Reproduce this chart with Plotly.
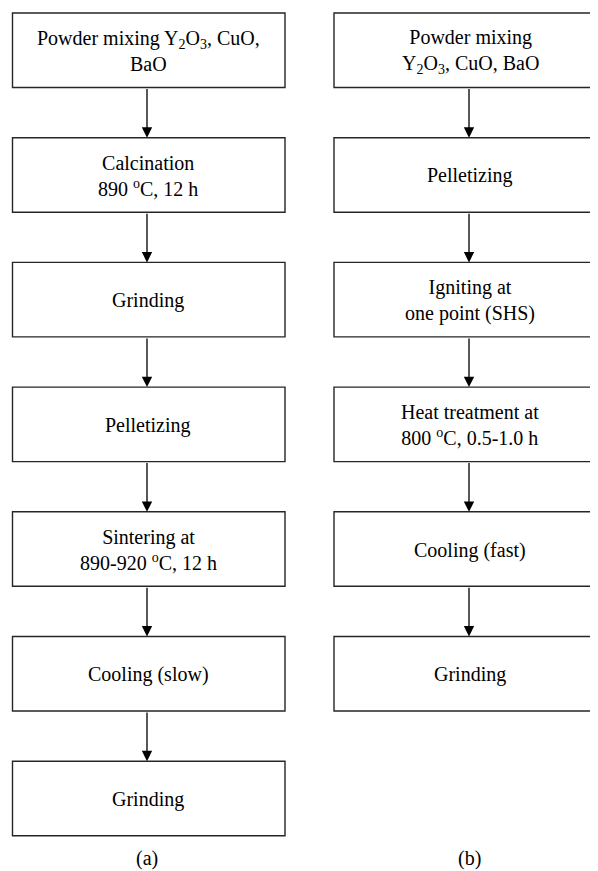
import plotly.graph_objects as go

# Process steps (flowchart content)
steps_a = [
    "Powder mixing Y<sub>2</sub>O<sub>3</sub>, CuO,<br>BaO",
    "Calcination<br>890 <sup>o</sup>C, 12 h",
    "Grinding",
    "Pelletizing",
    "Sintering at<br>890-920 <sup>o</sup>C, 12 h",
    "Cooling (slow)",
    "Grinding",
]
steps_b = [
    "Powder mixing<br>Y<sub>2</sub>O<sub>3</sub>, CuO, BaO",
    "Pelletizing",
    "Igniting at<br>one point (SHS)",
    "Heat treatment at<br>800 <sup>o</sup>C, 0.5-1.0 h",
    "Cooling (fast)",
    "Grinding",
]
panel_labels = ["(a)", "(b)"]

W, H = 598, 871
OFF = 8  # page body margin
FONT = dict(family="Liberation Serif", size=20, color="black")
LINE = "#262626"

top0, pitch, box_h = 13, 124.7, 74.5
columns = [
    dict(steps=steps_a, x0=12.5, x1=285, cx=148),
    dict(steps=steps_b, x0=334, x1=606, cx=470),
]

fig = go.Figure()
fig.add_trace(go.Scatter(x=[OFF, W], y=[OFF, H], mode="markers", marker=dict(opacity=0),
                         hoverinfo="skip", showlegend=False))

shapes, annotations = [], []
for ci, col in enumerate(columns):
    n = len(col["steps"])
    for i, txt in enumerate(col["steps"]):
        t = top0 + pitch * i
        b = t + box_h
        shapes.append(dict(type="rect", xref="x", yref="y", x0=col["x0"], x1=col["x1"], y0=t, y1=b,
                           line=dict(color=LINE, width=1.4), fillcolor="white"))
        annotations.append(dict(x=col["cx"], y=(t + b) / 2 + 1, xref="x", yref="y", text=txt,
                                showarrow=False, font=FONT, align="center"))
        if i < n - 1:
            nt = top0 + pitch * (i + 1)
            annotations.append(dict(x=col["cx"] - 1, y=nt, ax=col["cx"] - 1, ay=b, xref="x", yref="y",
                                    axref="x", ayref="y", text="", showarrow=True, arrowhead=2,
                                    arrowsize=1.6, arrowwidth=1.3, arrowcolor="black", standoff=0))
    annotations.append(dict(x=col["cx"] - 1, y=858, xref="x", yref="y", text=panel_labels[ci],
                            showarrow=False, font=FONT))

fig.update_layout(
    width=W - OFF, height=H - OFF, margin=dict(l=0, r=0, t=0, b=0),
    paper_bgcolor="white", plot_bgcolor="white",
    xaxis=dict(range=[OFF, W], visible=False, fixedrange=True),
    yaxis=dict(range=[H, OFF], visible=False, fixedrange=True),
    shapes=shapes, annotations=annotations, showlegend=False,
)
fig.write_html("out.html")
